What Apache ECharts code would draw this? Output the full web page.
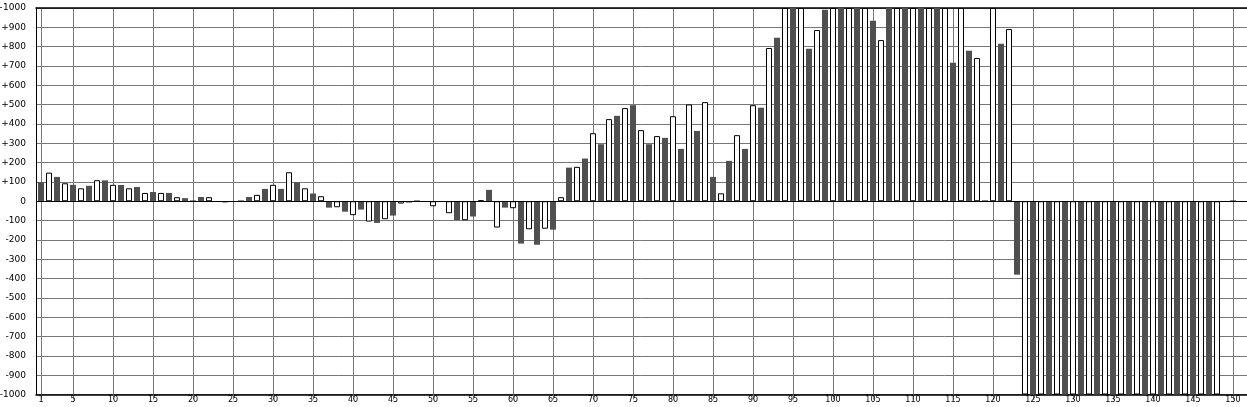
<!DOCTYPE html>
<html>
<head>
<meta charset="utf-8">
<script src="https://cdn.jsdelivr.net/npm/echarts@6/dist/echarts.min.js"></script>
<style>
html,body{margin:0;padding:0;background:#fff;}
#chart{width:1247px;height:407px;}
</style>
</head>
<body>
<div id="chart"></div>
<script>
// Odd positions 1,3,5,...,149 (dark bars)
const darkValues = [
  98, 126, 85, 80, 108, 84, 74, 48, 43, 16, 22, 0,
  0, 22, 64, 64, 98, 40, -33, -54, -43, -112, -74, -7,
  0, 0, -97, -79, 59, -33, -219, -225, -147, 174, 221, 295,
  442, 497, 295, 328, 271, 364, 126, 209, 271, 484, 846, 1000,
  789, 991, 1000, 1000, 934, 1000, 1000, 1000, 1000, 717, 779, 5,
  815, -380,
  -1000, -1000, -1000, -1000, -1000, -1000, -1000, -1000, -1000, -1000, -1000, -1000,
  0
];
// Even positions 2,4,6,...,150 (white bars)
const lightValues = [
  148, 93, 67, 109, 85, 67, 43, 43, 21, 0, 21, -5,
  0, 33, 85, 150, 67, 26, -31, -72, -105, -93, -12, 0,
  -26, -62, -98, 5, -136, -36, -145, -142, 21, 178, 352, 425,
  482, 368, 337, 440, 501, 513, 41, 342, 497, 793, 1000, 1000,
  886, 1000, 1000, 1000, 834, 1000, 1000, 1000, 1000, 1000, 741, 1000,
  891,
  -1000, -1000, -1000, -1000, -1000, -1000, -1000, -1000, -1000, -1000, -1000, -1000, -1000,
  0
];
const xTickValues = [1, 5, 10, 15, 20, 25, 30, 35, 40, 45, 50, 55, 60, 65, 70, 75,
  80, 85, 90, 95, 100, 105, 110, 115, 120, 125, 130, 135, 140, 145, 150];

const darkData = darkValues.map((v, k) => [2 * k + 1, v]);
const lightData = lightValues.map((v, k) => [2 * k + 2, v]);

const chart = echarts.init(document.getElementById('chart'), null, {renderer: 'canvas'});
const FONT = 'DejaVu Sans';
chart.setOption({
  animation: false,
  backgroundColor: '#ffffff',
  grid: {left: 36, right: 0, top: 8, bottom: 12.5, containLabel: false, outerBoundsMode: 'none'},
  xAxis: [{
    type: 'value',
    min: 0.375,
    max: 151.75,
    position: 'bottom',
    axisLine: {show: true, onZero: false, lineStyle: {color: '#000', width: 1.5}},
    axisTick: {show: true, customValues: xTickValues, length: 5, lineStyle: {color: '#777'}},
    axisLabel: {customValues: xTickValues, color: '#000', fontFamily: FONT, fontSize: 8, margin: 1.5, hideOverlap: false},
    splitLine: {show: true, lineStyle: {color: '#777', width: 1}}
  }, {
    type: 'value',
    min: 0.375,
    max: 151.75,
    position: 'top',
    axisLine: {show: true, onZero: false, lineStyle: {color: '#000', width: 1.5}},
    axisTick: {show: false},
    axisLabel: {show: false},
    splitLine: {show: false}
  }],
  yAxis: {
    type: 'value',
    min: -1000,
    max: 1000,
    interval: 100,
    axisLine: {show: true, onZero: false, lineStyle: {color: '#000', width: 1}},
    axisTick: {show: false},
    axisLabel: {
      color: '#000', fontFamily: FONT, fontSize: 9, margin: 10, hideOverlap: false,
      formatter: v => (v > 0 ? '+' + v : String(v))
    },
    splitLine: {show: true, lineStyle: {color: '#777', width: 1}}
  },
  series: [{
    type: 'bar',
    name: 'dark',
    data: darkData,
    barWidth: 6,
    barGap: '-100%',
    itemStyle: {color: '#505050'},
    markLine: {
      silent: true,
      symbol: 'none',
      label: {show: false},
      lineStyle: {color: '#000', width: 1, type: 'solid'},
      data: [{yAxis: 0}]
    }
  }, {
    type: 'bar',
    name: 'light',
    data: lightData,
    barWidth: 6,
    barGap: '-100%',
    itemStyle: {color: '#ffffff', borderColor: '#000', borderWidth: 1}
  }]
});
</script>
</body>
</html>
